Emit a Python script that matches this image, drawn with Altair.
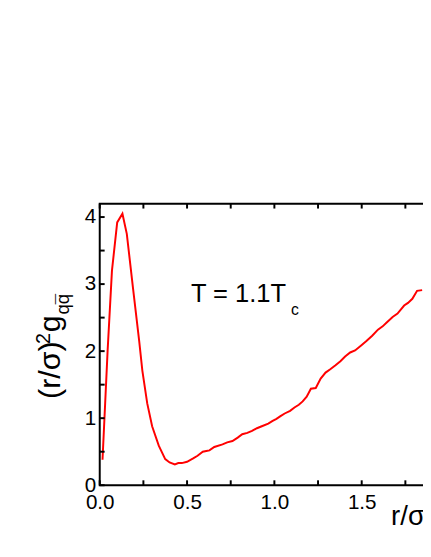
import altair as alt
import pandas as pd

# curve data (r/sigma, (r/sigma)^2 g)
r_vals = [0.016, 0.045, 0.07, 0.10, 0.13, 0.155, 0.19, 0.226, 0.244, 0.272, 0.30, 0.338,
          0.375, 0.40, 0.43, 0.45, 0.47, 0.50, 0.535, 0.56, 0.59, 0.61, 0.628, 0.656,
          0.703, 0.73, 0.76, 0.79, 0.816, 0.845, 0.872, 0.90, 0.928, 0.965, 0.99, 1.012,
          1.035, 1.059, 1.09, 1.115, 1.14, 1.162, 1.185, 1.209, 1.237, 1.265, 1.293, 1.32,
          1.35, 1.378, 1.405, 1.434, 1.462, 1.495, 1.527, 1.56, 1.593, 1.62, 1.64, 1.677,
          1.705, 1.743, 1.765, 1.79, 1.817, 1.846]
g_vals = [0.38, 2.0, 3.2, 3.92, 4.05, 3.75, 2.95, 2.15, 1.71, 1.22, 0.88, 0.59,
          0.39, 0.34, 0.31, 0.33, 0.33, 0.35, 0.40, 0.44, 0.50, 0.51, 0.52, 0.57,
          0.61, 0.64, 0.66, 0.71, 0.76, 0.78, 0.81, 0.85, 0.88, 0.92, 0.96, 0.99,
          1.03, 1.07, 1.11, 1.16, 1.20, 1.25, 1.32, 1.44, 1.45, 1.59, 1.68, 1.73,
          1.79, 1.85, 1.92, 1.98, 2.01, 2.08, 2.15, 2.23, 2.32, 2.37, 2.42, 2.51,
          2.56, 2.68, 2.72, 2.78, 2.90, 2.91]

x_ticks = [0.0, 0.25, 0.5, 0.75, 1.0, 1.25, 1.5, 1.75]
x_labels = [0.0, 0.5, 1.0, 1.5]
y_ticks = [0.0, 0.5, 1.0, 1.5, 2.0, 2.5, 3.0, 3.5, 4.0]
y_labels = [0, 1, 2, 3, 4]

ann_text = ["T = 1.1T", "c"]
ann_x = [0.522, 1.095]
ann_y = [2.74, 2.54]
ann_size = [26, 16]

FONT = "Liberation Sans"
W, H = 332, 287
TICK = 5

df = pd.DataFrame({"r": r_vals, "g": g_vals})
ann = pd.DataFrame({"t": ann_text, "x": ann_x, "y": ann_y, "s": ann_size})
xt = pd.DataFrame({"v": x_ticks})
yt = pd.DataFrame({"v": y_ticks})

xscale = alt.Scale(domain=[0, 1.865], nice=False, zero=False)
yscale = alt.Scale(domain=[0, 4.2], nice=False)

line = alt.Chart(df).mark_line(color="#ff0000", strokeWidth=2).encode(
    x=alt.X("r:Q", scale=xscale,
            axis=alt.Axis(values=x_labels, format=".1f", ticks=False, domain=False,
                          grid=False, title=None, labelFont=FONT, labelFontSize=21,
                          labelColor="black", labelPadding=7, labelFlush=False,
                          labelOverlap=False)),
    y=alt.Y("g:Q", scale=yscale,
            axis=alt.Axis(values=y_labels, format="d", ticks=False, domain=False,
                          grid=False, title=None, labelFont=FONT, labelFontSize=21,
                          labelColor="black", labelPadding=4, labelFlush=False,
                          labelOverlap=False)),
)

tick_style = dict(color="black", strokeWidth=2)
bottom_ticks = alt.Chart(xt).mark_rule(**tick_style).encode(
    x=alt.X("v:Q", scale=xscale), y=alt.value(H), y2=alt.value(H - TICK))
top_ticks = alt.Chart(xt).mark_rule(**tick_style).encode(
    x=alt.X("v:Q", scale=xscale), y=alt.value(0), y2=alt.value(TICK))
left_ticks = alt.Chart(yt).mark_rule(**tick_style).encode(
    y=alt.Y("v:Q", scale=yscale), x=alt.value(0), x2=alt.value(TICK))

annot = alt.Chart(ann).mark_text(align="left", baseline="alphabetic", font=FONT,
                                 color="black").encode(
    x=alt.X("x:Q", scale=xscale),
    y=alt.Y("y:Q", scale=yscale),
    text="t:N",
    size=alt.Size("s:Q", scale=None, legend=None),
)


def txt(s, x, y, size, angle=0):
    d = pd.DataFrame({"t": [s]})
    kw = dict(align="left", baseline="alphabetic", font=FONT, fontSize=size, color="black")
    if angle:
        kw["angle"] = angle
    return alt.Chart(d).mark_text(**kw).encode(
        x=alt.value(x), y=alt.value(y), text="t:N")


# y title pieces, positioned relative to the plot origin (rotated, reading upward)
ytitle = [
    txt("(r/σ)", -40, 199, 31, 270),
    txt("2", -51, 143, 20, 270),
    txt("g", -40, 131, 31, 270),
    txt("qq", -31, 113, 19, 270),
    txt("\u00af", -31, 102.5, 19, 270),
]
xtitle = txt("r/σ", 297, 328, 28)

chart = alt.layer(line, bottom_ticks, top_ticks, left_ticks, annot, *ytitle, xtitle).properties(
    width=W, height=H,
    padding={"left": 93.5, "top": 194.3, "right": -2.5, "bottom": 50},
    autosize=alt.AutoSizeParams(type="none"),
).configure_view(stroke="black", strokeWidth=2)

chart.save("out.html", embed_options={"renderer": "svg", "actions": False})
